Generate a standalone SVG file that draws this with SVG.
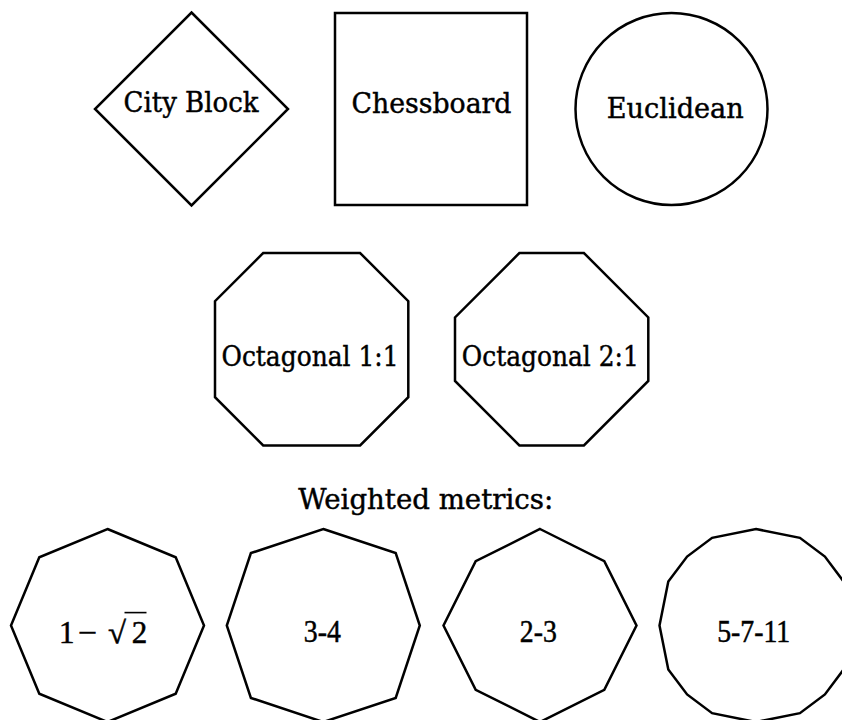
<svg xmlns="http://www.w3.org/2000/svg" width="842" height="720" viewBox="0 0 842 720">
<style>
.shape{fill:#fff;stroke:#000;stroke-width:2.5;stroke-linejoin:miter}
.lbl{font-family:"DejaVu Serif","Liberation Serif",serif;font-size:28px;fill:#000;stroke:#000;stroke-width:0.45;text-anchor:middle}
.math{font-family:"Liberation Serif","DejaVu Serif",serif;font-size:31px;fill:#000;stroke:#000;stroke-width:0.5;text-anchor:middle}
</style>
<rect width="842" height="720" fill="#fff"/>
<g id="connectors"/>
<g id="cityblock">
<polygon class="shape" points="191.5,12.5 288,109 191.5,205.5 95,109"/>
<text class="lbl" x="191" y="112" textLength="135" lengthAdjust="spacingAndGlyphs">City Block</text>
</g>
<g id="chessboard">
<rect class="shape" x="335" y="13" width="192" height="192"/>
<text class="lbl" x="431.5" y="112.5" textLength="160" lengthAdjust="spacingAndGlyphs">Chessboard</text>
</g>
<g id="euclidean">
<circle class="shape" cx="671.5" cy="109" r="96"/>
<text class="lbl" x="675.3" y="118.3" textLength="137" lengthAdjust="spacingAndGlyphs">Euclidean</text>
</g>
<g id="octagonal11">
<polygon class="shape" points="263.2,253 360.1,253 408.3,301.2 408.3,397.2 360.1,445.4 263.2,445.4 215,397.2 215,301.2"/>
<text class="lbl" x="310" y="366" textLength="177" lengthAdjust="spacingAndGlyphs">Octagonal 1:1</text>
</g>
<g id="octagonal21">
<polygon class="shape" points="519.4,253 583.9,253 648.3,317.4 648.3,381 583.9,445.4 519.4,445.4 455,381 455,317.4"/>
<text class="lbl" x="550.3" y="366" textLength="177" lengthAdjust="spacingAndGlyphs">Octagonal 2:1</text>
</g>
<g id="weighted-title">
<text class="lbl" x="425.7" y="509.3" textLength="255" lengthAdjust="spacingAndGlyphs">Weighted metrics:</text>
</g>
<g id="w-1-sqrt2">
<polygon class="shape" points="107.5,529 175.7,557.3 204,625.5 175.7,693.7 107.5,722 39.3,693.7 11,625.5 39.3,557.3"/>
<text class="math" x="66.7" y="643">1</text>
<text class="math" x="87.5" y="643" textLength="19" lengthAdjust="spacingAndGlyphs">−</text>
<text class="math" x="108" y="643" font-size="40" style="text-anchor:start" textLength="18" lengthAdjust="spacingAndGlyphs">√</text>
<line x1="124.5" y1="612.6" x2="146.5" y2="612.6" stroke="#000" stroke-width="1.6"/>
<text class="math" x="139.5" y="643">2</text>
</g>
<g id="w-3-4">
<polygon class="shape" points="323.3,529 395.7,553.1 419.8,625.5 395.7,697.9 323.3,722 250.9,697.9 226.8,625.5 250.9,553.1"/>
<text class="math" x="322.3" y="642" textLength="37" lengthAdjust="spacingAndGlyphs">3-4</text>
</g>
<g id="w-2-3">
<polygon class="shape" points="540,529 604.3,561.2 636.5,625.5 604.3,689.8 540,722 475.7,689.8 443.5,625.5 475.7,561.2"/>
<text class="math" x="538.3" y="642" textLength="37" lengthAdjust="spacingAndGlyphs">2-3</text>
</g>
<g id="w-5-7-11">
<polygon class="shape" points="756,529 799.9,537.8 824.9,556.6 843.7,581.6 852.5,625.5 843.7,669.4 824.9,694.4 799.9,713.2 756,722 712.1,713.2 687.1,694.4 668.3,669.4 659.5,625.5 668.3,581.6 687.1,556.6 712.1,537.8"/>
<text class="math" x="753.7" y="642" textLength="73" lengthAdjust="spacingAndGlyphs">5-7-11</text>
</g>
</svg>
